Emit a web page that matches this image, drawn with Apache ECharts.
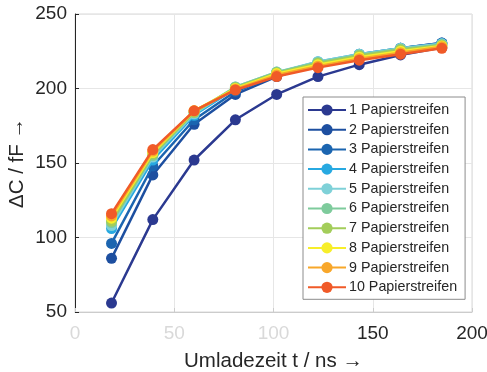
<!DOCTYPE html>
<html>
<head>
<meta charset="utf-8">
<script src="https://cdn.jsdelivr.net/npm/echarts@6/dist/echarts.min.js"></script>
<style>
html,body{margin:0;padding:0;background:#fff;}
#chart{width:487px;height:372px;}
</style>
</head>
<body>
<div id="chart"></div>
<script>
const xValues = [18.4, 39.2, 60, 80.8, 101.6, 122.4, 143.2, 164, 184.8];
const seriesNames = ['1 Papierstreifen','2 Papierstreifen','3 Papierstreifen','4 Papierstreifen','5 Papierstreifen','6 Papierstreifen','7 Papierstreifen','8 Papierstreifen','9 Papierstreifen','10 Papierstreifen'];
const s1  = [56, 112, 152, 179, 196, 208, 216, 222.5, 227.5];
const s2  = [86, 142, 176, 196, 208, 216, 222, 227, 230.5];
const s3  = [96, 148, 179, 198, 209, 217, 223, 227, 230.5];
const s4  = [106, 152, 182, 200, 210.5, 218, 223, 227, 230];
const s5  = [108, 154, 183, 201, 211, 218, 223, 227, 230];
const s6  = [110, 155, 184, 201, 211, 217.5, 222.5, 226.5, 229.5];
const s7  = [111, 156, 184, 200.5, 210.5, 217, 222, 226, 229];
const s8  = [113, 157, 185, 200, 210, 216, 221, 225, 228.5];
const s9  = [114.5, 158, 185, 199.5, 209, 215, 220, 224, 228];
const s10 = [116, 159, 185, 199, 208, 214, 219, 223, 227];
const allSeries = [s1,s2,s3,s4,s5,s6,s7,s8,s9,s10];
const colors = ['#2b3990','#1d4fa0','#1b65b0','#27a9e1','#7fd1d8','#7ecb9c','#a3cd5a','#f7ee2a','#f8a72a','#f05a28'];
const xTicks = [0, 50, 100, 150, 200];
const yTicks = [50, 100, 150, 200, 250];
const xTickFaded = [true, true, true, false, false];

const FONT = '"Liberation Sans", Arial, sans-serif';
const chart = echarts.init(document.getElementById('chart'), null, {renderer:'canvas'});
chart.setOption({
  animation: false,
  backgroundColor: '#fff',
  grid: {left: 75, right: 15, top: 14, bottom: 60, show: true, borderColor: '#d9d9d9', borderWidth: 1, backgroundColor: 'transparent', containLabel: false, outerBoundsMode: 'none'},
  xAxis: {
    type: 'value', min: xTicks[0], max: xTicks[xTicks.length-1], interval: 50,
    name: 'Umladezeit t / ns \u2192', nameLocation: 'middle', nameGap: 39, nameMoveOverlap: false,
    nameTextStyle: {color: '#262626', fontSize: 20.5, fontFamily: FONT},
    axisLine: {show: true, onZero: false, lineStyle: {color: '#cccccc', width: 1}},
    axisTick: {show: true, inside: true, length: 4, lineStyle: {color: '#cccccc'}},
    axisLabel: {fontSize: 19, fontFamily: FONT, margin: 12, color: '#262626',
      formatter: function(v){ const i = xTicks.indexOf(v); return (i >= 0 && xTickFaded[i]) ? '{f|' + v + '}' : '{d|' + v + '}'; },
      rich: {
        f: {color: '#d9d9d9', fontSize: 19, fontFamily: FONT},
        d: {color: '#262626', fontSize: 19, fontFamily: FONT}
      }},
    splitLine: {show: true, lineStyle: {color: '#e6e6e6', width: 1}}
  },
  yAxis: {
    type: 'value', min: yTicks[0], max: yTicks[yTicks.length-1], interval: 50,
    name: '\u0394C / fF \u2192', nameLocation: 'middle', nameGap: 47, nameMoveOverlap: false,
    nameTextStyle: {color: '#262626', fontSize: 20.5, fontFamily: FONT},
    axisLine: {show: true, onZero: false, lineStyle: {color: '#262626', width: 1}},
    axisTick: {show: true, inside: true, length: 4, lineStyle: {color: '#262626'}},
    axisLabel: {fontSize: 19, fontFamily: FONT, color: '#262626', margin: 8},
    splitLine: {show: true, lineStyle: {color: '#e6e6e6', width: 1}}
  },
  legend: {
    orient: 'vertical', left: 303, top: 97,
    backgroundColor: '#fff', borderColor: '#8c8c8c', borderWidth: 1, borderRadius: 0,
    padding: [6, 8, 5, 4], itemGap: 5.7, itemWidth: 38, itemHeight: 14,
    textStyle: {fontSize: 14.3, fontFamily: FONT, color: '#262626', padding: [0,0,0,-2]},
    data: seriesNames
  },
  series: allSeries.map((vals, i) => ({
    name: seriesNames[i], type: 'line',
    data: vals.map((v, j) => [xValues[j], v]),
    symbol: 'circle', symbolSize: 11,
    lineStyle: {color: colors[i], width: 2.5},
    itemStyle: {color: colors[i]},
    z: 2 + i
  }))
});
</script>
</body>
</html>
